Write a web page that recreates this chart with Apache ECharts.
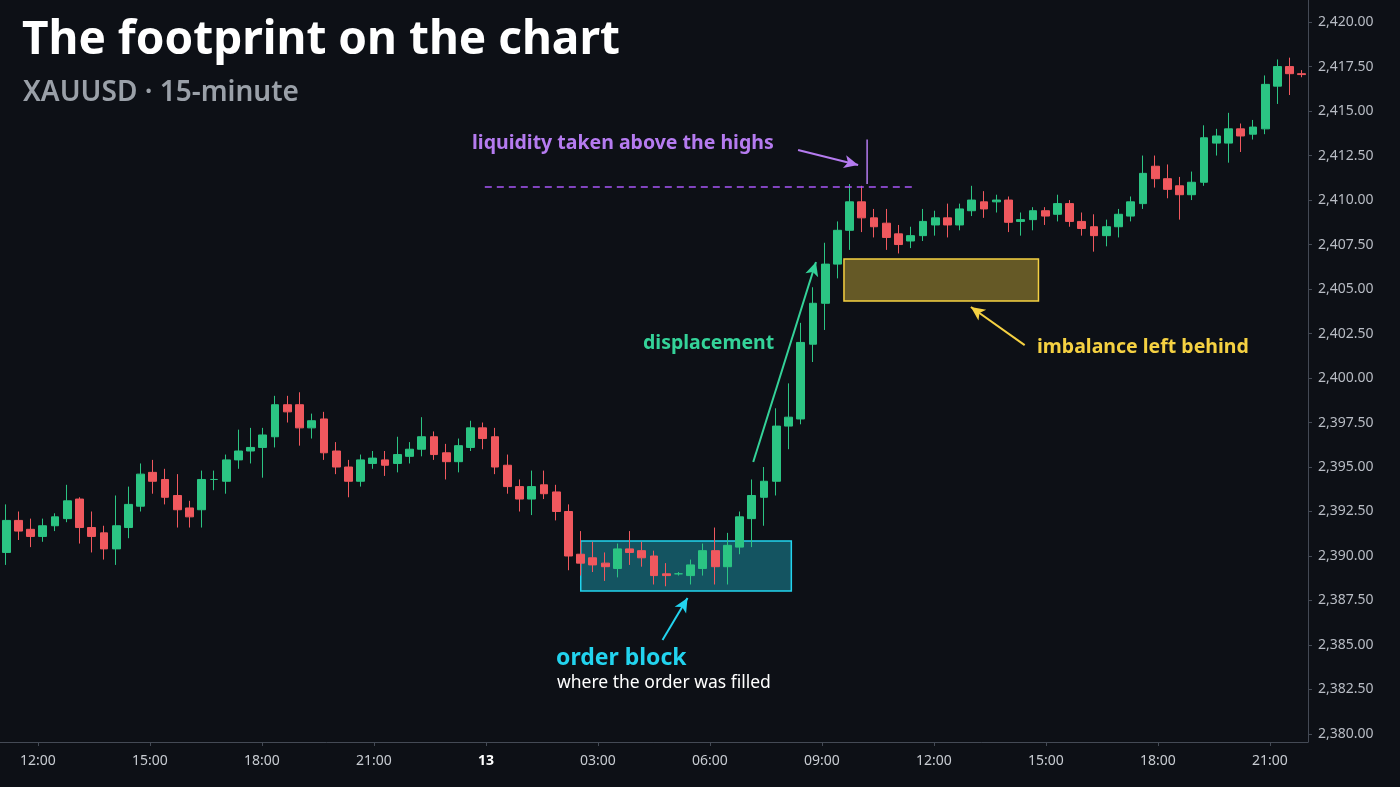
<!DOCTYPE html>
<html><head><meta charset="utf-8">
<script src="https://cdn.jsdelivr.net/npm/echarts@6/dist/echarts.min.js"></script>
<style>html,body{margin:0;padding:0;background:#0d1016}#c{width:1400px;height:787px}</style>
</head><body><div id="c"></div>
<script>
const opens  = [2390.2,2392.0,2391.5,2391.1,2391.7,2392.1,2393.2,2391.6,2391.3,2390.4,2391.6,2392.8,2394.7,2394.3,2393.4,2392.7,2392.6,2394.3,2394.2,2395.4,2395.9,2396.1,2396.7,2398.5,2398.5,2397.2,2397.7,2395.9,2395.0,2394.2,2395.2,2395.4,2395.2,2395.6,2396.0,2396.7,2395.8,2395.3,2396.1,2397.2,2396.7,2395.1,2393.9,2393.2,2394.0,2393.6,2392.5,2390.1,2389.9,2389.6,2389.3,2390.4,2390.3,2390.0,2389.0,2389.0,2388.9,2389.3,2390.3,2389.4,2390.5,2392.1,2393.3,2394.2,2397.3,2397.7,2401.9,2404.2,2406.4,2408.3,2409.9,2409.0,2408.7,2408.1,2407.7,2408.0,2408.6,2409.0,2408.6,2409.4,2409.9,2409.9,2410.0,2408.8,2408.9,2409.4,2409.2,2409.8,2408.8,2408.5,2408.0,2408.5,2409.1,2409.8,2411.9,2411.2,2410.8,2410.3,2411.0,2413.2,2413.2,2414.0,2413.7,2414.0,2416.4,2417.5,2417.1];
const closes = [2392.0,2391.4,2391.1,2391.7,2392.2,2393.1,2391.6,2391.1,2390.4,2391.7,2392.9,2394.6,2394.2,2393.3,2392.6,2392.2,2394.3,2394.3,2395.4,2395.9,2396.1,2396.8,2398.5,2398.1,2397.2,2397.6,2395.8,2395.0,2394.2,2395.4,2395.5,2395.1,2395.7,2396.0,2396.7,2395.7,2395.3,2396.2,2397.2,2396.6,2395.0,2393.9,2393.2,2393.9,2393.5,2392.5,2390.0,2389.6,2389.5,2389.4,2390.4,2390.2,2389.9,2388.9,2388.9,2389.0,2389.5,2390.3,2389.4,2390.6,2392.2,2393.4,2394.2,2397.3,2397.8,2402.0,2404.2,2406.4,2408.3,2409.9,2409.0,2408.5,2407.9,2407.5,2408.0,2408.8,2409.0,2408.6,2409.5,2410.0,2409.5,2410.0,2408.75,2408.9,2409.4,2409.1,2409.8,2408.8,2408.4,2408.0,2408.5,2409.2,2409.9,2411.5,2411.2,2410.6,2410.3,2411.0,2413.5,2413.6,2414.0,2413.6,2414.1,2416.5,2417.5,2417.1,2417.05];
const highs  = [2392.9,2392.5,2392.1,2392.1,2392.4,2394.0,2393.3,2392.5,2391.7,2393.4,2393.9,2395.2,2395.4,2394.9,2394.6,2393.1,2394.8,2394.8,2395.7,2397.1,2397.2,2397.2,2399.0,2399.0,2399.2,2398.0,2398.1,2396.4,2395.4,2395.7,2395.9,2395.9,2396.7,2396.4,2397.8,2397.0,2396.3,2396.6,2397.6,2397.5,2397.2,2395.7,2394.3,2394.8,2394.8,2394.0,2392.9,2391.4,2390.8,2390.2,2390.7,2391.4,2390.8,2390.3,2389.6,2389.1,2389.8,2390.7,2391.6,2391.3,2392.5,2394.3,2395.0,2398.3,2399.7,2403.1,2405.1,2407.6,2408.8,2410.9,2410.8,2409.5,2409.5,2408.6,2408.5,2409.5,2409.4,2409.8,2409.8,2410.8,2410.5,2410.3,2410.2,2409.3,2409.6,2409.6,2410.3,2410.0,2409.3,2409.2,2408.9,2409.5,2410.2,2412.5,2412.5,2412.0,2411.3,2411.6,2414.2,2414.0,2414.9,2414.3,2414.5,2417.0,2417.9,2418.0,2417.3];
const lows   = [2389.5,2390.9,2390.5,2390.8,2391.4,2391.9,2390.7,2390.2,2389.8,2389.5,2391.0,2392.5,2393.5,2392.9,2391.6,2391.6,2391.6,2393.7,2393.5,2394.9,2395.2,2394.4,2396.1,2397.5,2396.2,2396.6,2395.4,2394.6,2393.3,2393.9,2394.9,2394.5,2394.7,2395.2,2395.6,2395.4,2394.3,2394.7,2395.9,2396.0,2394.6,2393.5,2392.5,2392.3,2393.2,2392.0,2389.2,2388.9,2389.1,2388.6,2388.8,2389.5,2389.4,2388.4,2388.3,2388.9,2388.4,2388.9,2388.4,2388.4,2390.1,2390.5,2391.7,2393.4,2396.0,2397.4,2400.9,2402.7,2405.6,2407.2,2408.2,2407.9,2407.2,2407.0,2407.3,2407.7,2408.0,2407.9,2408.3,2409.1,2409.0,2409.3,2408.2,2408.0,2408.3,2408.6,2408.8,2408.5,2408.0,2407.1,2407.4,2407.9,2408.8,2409.5,2410.7,2410.1,2408.9,2410.0,2410.8,2412.5,2412.1,2412.7,2413.4,2413.7,2415.4,2415.9,2416.9];
const hourTicks = [12,15,18,21,24,27,30,33,36,39,42,45];
const priceTicks = [2380,2382.5,2385,2387.5,2390,2392.5,2395,2397.5,2400,2402.5,2405,2407.5,2410,2412.5,2415,2417.5,2420];
const orderBlock = [[26.54,2390.84],[32.18,2388.03]];
const imbalance = [[33.59,2406.69],[38.80,2404.33]];
const sweepLevel = {x0:23.97,x1:35.52,y:2410.73};
const sweepWick = [[34.21,2413.4],[34.21,2410.9]];
const arrows = [
  {from:[32.36,2412.81],to:[33.97,2411.97],color:'#b57bf0'},
  {from:[31.16,2395.28],to:[32.84,2406.52],color:'#34d399'},
  {from:[38.43,2401.85],to:[36.99,2403.99],color:'#f5d142'},
  {from:[28.73,2385.28],to:[29.40,2387.64],color:'#22d3ee'}
];

const cats = opens.map((_,i)=>String(i));
const candles = opens.map((o,i)=>[o,closes[i],lows[i],highs[i]]);
const fmtP = v => v.toLocaleString('en-US',{minimumFractionDigits:2,maximumFractionDigits:2});
const chart = echarts.init(document.getElementById('c'));
const gridW = 1311, gridL = -3;
const hMin = 12 + (gridL - 35)/37.42, hMax = 12 + (gridL + gridW - 35)/37.42;
chart.setOption({
  backgroundColor:'#0d1016',
  animation:false,
  grid:{left:gridL,width:gridW,top:0,bottom:45},
  xAxis:[
    {type:'category',data:cats,boundaryGap:true,show:false},
    {type:'value',min:hMin,max:hMax,position:'bottom',
     axisLine:{show:true,lineStyle:{color:'#444a55'}},
     axisTick:{show:true,customValues:hourTicks,length:4,lineStyle:{color:'#444a55'}},
     splitLine:{show:false},
     axisLabel:{customValues:hourTicks,color:'#c8ccd2',fontSize:14,margin:12,fontFamily:'Noto Sans',
       formatter:v=>{const h=Math.round(v)%24; if(Math.round(v)===24) return '{b|13}'; return (h<10?'0':'')+h+':00';},
       rich:{b:{color:'#ffffff',fontWeight:'bold',fontSize:14,fontFamily:'Noto Sans'}}}}
  ],
  yAxis:{type:'value',position:'right',min:2379.55,max:2421.24,
    axisLine:{show:true,lineStyle:{color:'#444a55'}},
    axisTick:{show:true,customValues:priceTicks,length:4,lineStyle:{color:'#444a55'}},
    splitLine:{show:false},
    axisLabel:{customValues:priceTicks,color:'#b8bcc4',fontSize:14,margin:10,fontFamily:'Noto Sans',formatter:fmtP}},
  series:[
    {type:'candlestick',data:candles,barWidth:'68%',
     itemStyle:{color:'#2bc483',color0:'#f0585e',borderColor:'#2bc483',borderColor0:'#f0585e',borderWidth:1}},
    {type:'line',xAxisIndex:1,data:sweepWick,symbol:'none',lineStyle:{color:'#b57bf0',width:1.5},z:5},
    {type:'line',xAxisIndex:1,data:[],symbol:'none',z:4,
     markArea:{silent:true,data:[
       [{coord:orderBlock[0],itemStyle:{color:'rgba(34,211,238,0.35)',borderColor:'#22d3ee',borderWidth:1.5}},{coord:orderBlock[1]}],
       [{coord:imbalance[0],itemStyle:{color:'rgba(245,209,66,0.38)',borderColor:'#f5d142',borderWidth:1.5}},{coord:imbalance[1]}]
     ]},
     markLine:{silent:true,symbol:['none','arrow'],symbolSize:[10,14],label:{show:false},
       data:[
         [{coord:[sweepLevel.x0,sweepLevel.y],symbol:'none',lineStyle:{color:'#a855f7',type:[7,5],width:1.5}},{coord:[sweepLevel.x1,sweepLevel.y],symbol:'none'}],
         ...arrows.map(a=>[{coord:a.from,symbol:'none',lineStyle:{color:a.color,width:2,type:'solid'}},{coord:a.to,symbol:'arrow'}])
       ]}}
  ],
  graphic:[
    {type:'text',left:22,top:18,style:{text:'The footprint on the chart',fill:'#ffffff',font:'bold 46px "Noto Sans"'}},
    {type:'text',left:23,top:79,style:{text:'XAUUSD · 15-minute',fill:'#9aa0a8',font:'600 28px "Noto Sans"'}},
    {type:'text',left:472,top:133,style:{text:'liquidity taken above the highs',fill:'#b57bf0',font:'bold 19.5px "Noto Sans"'}},
    {type:'text',left:643,top:333,style:{text:'displacement',fill:'#34d399',font:'bold 19.5px "Noto Sans"'}},
    {type:'text',left:1037,top:337,style:{text:'imbalance left behind',fill:'#f5d142',font:'bold 19.5px "Noto Sans"'}},
    {type:'text',left:556,top:647,style:{text:'order block',fill:'#22d3ee',font:'bold 23px "Noto Sans"'}},
    {type:'text',left:557,top:674,style:{text:'where the order was filled',fill:'#ffffff',font:'17.5px "Noto Sans"'}}
  ]
});
</script></body></html>
